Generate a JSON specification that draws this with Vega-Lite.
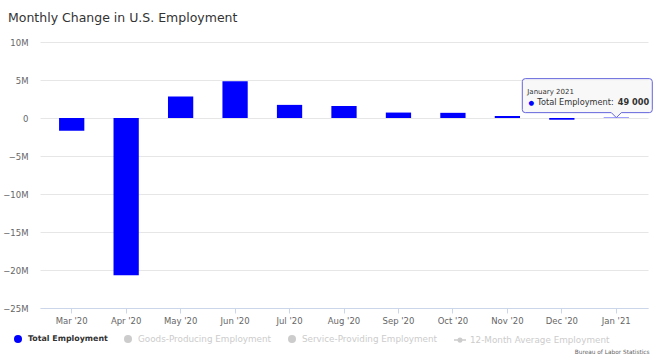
{
  "$schema": "https://vega.github.io/schema/vega-lite/v6.json",
  "width": 608,
  "height": 266,
  "autosize": {"type": "none"},
  "padding": {"left": 40, "top": 42, "right": 9, "bottom": 52},
  "background": "white",
  "title": {
    "text": "Monthly Change in U.S. Employment",
    "anchor": "start",
    "frame": "group",
    "dx": -32,
    "offset": 14,
    "font": "DejaVu Sans",
    "fontSize": 12.5,
    "fontWeight": "normal",
    "color": "#333333"
  },
  "data": {
    "values": [
      {"month": "Mar '20", "value": -1683000, "series": "Total Employment"},
      {"month": "Apr '20", "value": -20679000, "series": "Total Employment"},
      {"month": "May '20", "value": 2833000, "series": "Total Employment"},
      {"month": "Jun '20", "value": 4846000, "series": "Total Employment"},
      {"month": "Jul '20", "value": 1726000, "series": "Total Employment"},
      {"month": "Aug '20", "value": 1583000, "series": "Total Employment"},
      {"month": "Sep '20", "value": 716000, "series": "Total Employment"},
      {"month": "Oct '20", "value": 680000, "series": "Total Employment"},
      {"month": "Nov '20", "value": 264000, "series": "Total Employment"},
      {"month": "Dec '20", "value": -227000, "series": "Total Employment"},
      {"month": "Jan '21", "value": 49000, "series": "Total Employment"}
    ]
  },
  "config": {
    "view": {"stroke": null},
    "font": "DejaVu Sans",
    "axis": {"labelFont": "DejaVu Sans", "titleFont": "DejaVu Sans"}
  },
  "encoding": {
    "x": {
      "field": "month",
      "type": "nominal",
      "sort": null,
      "scale": {"paddingInner": 0.536, "paddingOuter": 0.35},
      "axis": {
        "labelAngle": 0,
        "labelFontSize": 8.5,
        "labelColor": "#666666",
        "labelPadding": 3,
        "domainColor": "#ccd6eb",
        "tickColor": "#ccd6eb",
        "tickSize": 5,
        "grid": false,
        "title": "Bureau of Labor Statistics",
        "titleFontSize": 5.8,
        "titleFontWeight": "normal",
        "titleColor": "#666666",
        "titleAnchor": "end",
        "titleAlign": "right",
        "titleBaseline": "alphabetic",
        "titleX": 609,
        "titleY": 45.5
      }
    },
    "y": {
      "field": "value",
      "type": "quantitative",
      "scale": {"domain": [-25000000, 10000000], "nice": false, "zero": false},
      "axis": {
        "values": [-25000000, -20000000, -15000000, -10000000, -5000000, 0, 5000000, 10000000],
        "labelExpr": "datum.value == 0 ? '0' : format(datum.value / 1000000, 'd') + 'M'",
        "labelFontSize": 8.5,
        "labelColor": "#666666",
        "labelPadding": 12,
        "ticks": false,
        "domain": false,
        "gridColor": "#e6e6e6",
        "title": null
      }
    }
  },
  "layer": [
    {
      "mark": {"type": "bar", "cornerRadius": 0},
      "encoding": {
        "color": {
          "field": "series",
          "type": "nominal",
          "scale": {
            "domain": ["Total Employment", "Goods-Producing Employment", "Service-Providing Employment", "12-Month Average Employment"],
            "range": ["#0000ff", "#cccccc", "#cccccc", "#cccccc"]
          },
          "legend": {
            "title": null,
            "orient": "none",
            "legendX": -27,
            "legendY": 292,
            "direction": "horizontal",
            "columnPadding": 13,
            "symbolType": "circle",
            "symbolSize": 64,
            "symbolOpacity": 1,
            "labelFont": "DejaVu Sans",
            "labelFontSize": 8.8,
            "labelOffset": 5,
            "labelLimit": 300,
            "encode": {
              "labels": {
                "update": {
                  "fill": {"signal": "datum.label == 'Total Employment' ? '#333333' : '#cccccc'"},
                  "fontWeight": {"signal": "datum.label == 'Total Employment' ? 'bold' : 'normal'"},
                  "fontSize": {"signal": "datum.label == 'Total Employment' ? 7.9 : 8.8"}
                }
              },
              "symbols": {
                "update": {
                  "shape": {"signal": "datum.label == '12-Month Average Employment' ? 'M-1.5,0L-0.45,0M0.45,0L1.5,0M-0.45,0A0.45,0.45 0 1,1 0.45,0A0.45,0.45 0 1,1 -0.45,0Z' : 'circle'"},
                  "stroke": {"signal": "datum.label == '12-Month Average Employment' ? '#cccccc' : 'transparent'"},
                  "strokeWidth": {"value": 1.5}
                }
              }
            }
          }
        }
      }
    },
    {
      "transform": [{"filter": "datum.month == \"Jan '21\""}],
      "mark": {
        "type": "point",
        "shape": "M-91,-39L33,-39Q36,-39 36,-36L36,-8Q36,-5 33,-5L5,-5L0,0L-5,-5L-91,-5Q-94,-5 -94,-8L-94,-36Q-94,-39 -91,-39Z",
        "size": 4,
        "filled": true,
        "fill": "#f7f7f7",
        "fillOpacity": 0.85,
        "stroke": "#6464dc",
        "strokeWidth": 1,
        "opacity": 1
      }
    },
    {
      "transform": [{"filter": "datum.month == \"Jan '21\""}],
      "mark": {"type": "text", "text": "January 2021", "align": "left", "baseline": "alphabetic", "dx": -89, "dy": -23.6, "fontSize": 7, "color": "#333333"}
    },
    {
      "transform": [{"filter": "datum.month == \"Jan '21\""}],
      "mark": {"type": "text", "text": "●", "align": "center", "baseline": "alphabetic", "dx": -85, "dy": -12.8, "fontSize": 6.5, "color": "#0000ff"}
    },
    {
      "transform": [{"filter": "datum.month == \"Jan '21\""}],
      "mark": {"type": "text", "text": "Total Employment:", "align": "left", "baseline": "alphabetic", "dx": -79, "dy": -12.3, "fontSize": 8.2, "color": "#333333"}
    },
    {
      "transform": [{"filter": "datum.month == \"Jan '21\""}],
      "mark": {"type": "text", "text": "49 000", "align": "left", "baseline": "alphabetic", "dx": 1.5, "dy": -12.3, "fontSize": 8.2, "fontWeight": "bold", "color": "#333333"}
    }
  ]
}
